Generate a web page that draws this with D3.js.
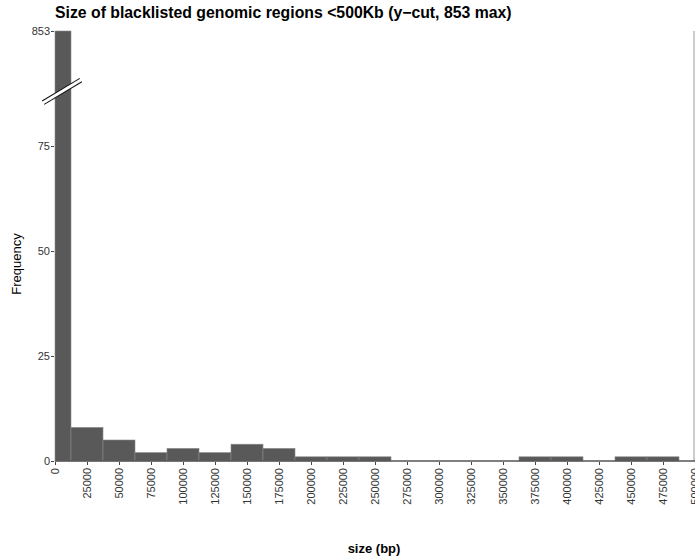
<!DOCTYPE html>
<html>
<head>
<meta charset="utf-8">
<script src="https://cdn.jsdelivr.net/npm/d3@7"></script>
<style>
  body { margin: 0; background: #fff; }
  text { font-family: "Liberation Sans", Arial, sans-serif; }
</style>
</head>
<body>
<div id="chart"></div>
<script>
// histogram bins (lower edge, bp) and counts
var binStarts = [-12500, 12500, 37500, 62500, 87500, 112500, 137500, 162500, 187500, 212500,
                 237500, 262500, 287500, 312500, 337500, 362500, 387500, 412500, 437500, 462500];
var counts    = [853, 8, 5, 2, 3, 2, 4, 3, 1, 1,
                 1, 0, 0, 0, 0, 1, 1, 0, 1, 1];
var binWidth = 25000;
var xTicks = [0, 25000, 50000, 75000, 100000, 125000, 150000, 175000, 200000, 225000, 250000,
              275000, 300000, 325000, 350000, 375000, 400000, 425000, 450000, 475000, 500000];
var yTicks = [0, 25, 50, 75, 853];
var yCut = 88;      // where the axis is broken
var yMax = 853;

var W = 695, H = 556;
var mLeft = 55, mRight = 695, mTop = 31, mBottom = 461;

var svg = d3.select("#chart").append("svg")
  .attr("width", W)
  .attr("height", H);

var x = d3.scaleLinear().domain([0, 500000]).range([mLeft, mRight]).clamp(true);
// piecewise: linear up to the cut, then squeezed to the max
var y = d3.scaleLinear().domain([0, yCut, yMax]).range([mBottom, mBottom - yCut * 4.2, mTop]);

var data = binStarts.map(function(s, i) { return {x0: s, x1: s + binWidth, n: counts[i]}; });

// right panel edge
svg.append("line")
  .attr("x1", x(500000) - 1).attr("x2", x(500000) - 1)
  .attr("y1", y(yMax)).attr("y2", y(0))
  .attr("stroke", "#bbb").attr("stroke-width", 1.5);

// bars
svg.append("g").selectAll("rect").data(data)
  .enter().append("rect")
  .attr("x", function(d) { return x(d.x0); })
  .attr("width", function(d) { return x(d.x1) - x(d.x0); })
  .attr("y", function(d) { return y(d.n); })
  .attr("height", function(d) { return y(0) - y(d.n); })
  .attr("fill", "#595959")
  .attr("stroke", "#8a8a8a")
  .attr("stroke-width", 0.6);

// baseline
svg.append("line")
  .attr("x1", x(0)).attr("x2", x(500000))
  .attr("y1", y(0)).attr("y2", y(0))
  .attr("stroke", "#555").attr("stroke-width", 1.5);

// x axis
var xAxis = svg.append("g")
  .attr("transform", "translate(0," + (y(0) + 1) + ")")
  .call(d3.axisBottom(x).tickValues(xTicks).tickSize(3).tickSizeOuter(0).tickFormat(d3.format("d")));
xAxis.select(".domain").remove();
xAxis.selectAll(".tick line").attr("stroke", "#444");
xAxis.selectAll(".tick text")
  .attr("transform", "rotate(-90)")
  .attr("text-anchor", "end")
  .attr("x", -6).attr("y", 0).attr("dy", "0.35em")
  .attr("fill", "#333")
  .style("font-size", "11px");

// y axis
var yAxis = svg.append("g")
  .attr("transform", "translate(" + (x(0) - 1) + ",0)")
  .call(d3.axisLeft(y).tickValues(yTicks).tickSize(3).tickSizeOuter(0));
yAxis.select(".domain").remove();
yAxis.selectAll(".tick line").attr("stroke", "#444");
yAxis.selectAll(".tick text")
  .attr("x", -4)
  .attr("fill", "#333")
  .style("font-size", "11px");

// break marks
var by = y(yCut), bx = x(0) + 7;
var brk = svg.append("g").attr("transform", "translate(" + bx + "," + by + ") rotate(-31)");
brk.append("rect").attr("x", -22).attr("y", -2).attr("width", 44).attr("height", 4)
  .attr("fill", "#fff");
brk.append("line").attr("x1", -22).attr("x2", 22).attr("y1", -2).attr("y2", -2)
  .attr("stroke", "#111").attr("stroke-width", 1);
brk.append("line").attr("x1", -22).attr("x2", 22).attr("y1", 2).attr("y2", 2)
  .attr("stroke", "#111").attr("stroke-width", 1);

// title & labels
svg.append("text")
  .attr("x", mLeft).attr("y", 18)
  .style("font-size", "15.8px").style("font-weight", "bold")
  .text("Size of blacklisted genomic regions <500Kb (y\u2212cut, 853 max)");

svg.append("text")
  .attr("x", 374).attr("y", 553)
  .attr("text-anchor", "middle")
  .style("font-size", "13px").style("font-weight", "bold")
  .text("size (bp)");

svg.append("text")
  .attr("transform", "translate(21,264) rotate(-90)")
  .attr("text-anchor", "middle")
  .style("font-size", "13px")
  .text("Frequency");
</script>
</body>
</html>
